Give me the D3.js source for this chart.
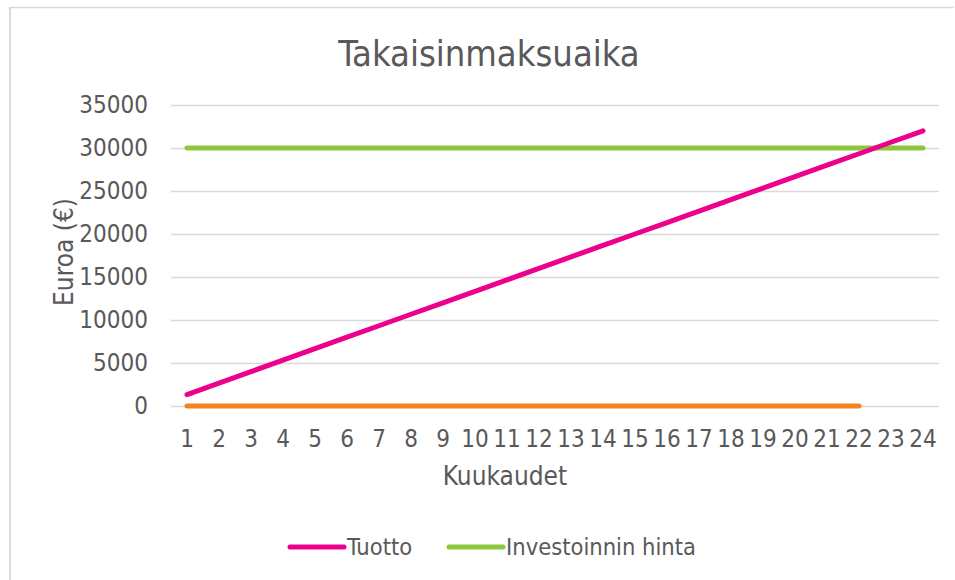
<!DOCTYPE html>
<html>
<head>
<meta charset="utf-8">
<script src="https://cdn.jsdelivr.net/npm/d3@7"></script>
<style>
    body { margin: 0; background: #fff; }
    svg text { font-family: "DejaVu Sans Condensed", "DejaVu Sans", sans-serif; font-stretch: condensed; fill: #595959; }
</style>
</head>
<body>
<svg id="chart" width="955" height="580"></svg>
<script>
// Months on the x axis
var months = ["1","2","3","4","5","6","7","8","9","10","11","12",
              "13","14","15","16","17","18","19","20","21","22","23","24"];

// Cumulative return per month
var tuotto = [1333, 2667, 4000, 5333, 6667, 8000, 9333, 10667, 12000, 13333, 14667, 16000,
              17333, 18667, 20000, 21333, 22667, 24000, 25333, 26667, 28000, 29333, 30667, 32000];

// Investment price (flat)
var investointi = [30000, 30000, 30000, 30000, 30000, 30000, 30000, 30000, 30000, 30000, 30000, 30000,
                   30000, 30000, 30000, 30000, 30000, 30000, 30000, 30000, 30000, 30000, 30000, 30000];

// Third series without legend entry, months 1-22
var kolmas = [0, 0, 0, 0, 0, 0, 0, 0, 0, 0, 0, 0, 0, 0, 0, 0, 0, 0, 0, 0, 0, 0];

var yTicks = [0, 5000, 10000, 15000, 20000, 25000, 30000, 35000];

var svg = d3.select("#chart");

// Chart frame (only top and left edges are visible in the picture)
svg.append("line").attr("x1", 10).attr("x2", 954).attr("y1", 7.5).attr("y2", 7.5)
    .style("stroke", "#d9d9d9").style("stroke-width", 1.5);
svg.append("line").attr("x1", 10).attr("x2", 10).attr("y1", 7).attr("y2", 580)
    .style("stroke", "#d9d9d9").style("stroke-width", 2);

var plot = { left: 171, right: 939, top: 105, bottom: 406 };

var x = d3.scaleBand().domain(months).range([plot.left, plot.right]);
var y = d3.scaleLinear().domain([0, 35000]).range([plot.bottom, plot.top]);

// Gridlines
svg.append("g")
    .selectAll("line")
    .data(yTicks)
    .enter()
  .append("line")
    .attr("x1", plot.left)
    .attr("x2", plot.right)
    .attr("y1", function(d) { return y(d) + 0.5 })
    .attr("y2", function(d) { return y(d) + 0.5 })
    .style("stroke", "#d9d9d9")
    .style("stroke-width", 1.5);

// Y axis labels
var yAxis = svg.append("g")
    .attr("transform", "translate(" + (plot.left - 23) + ",0)")
    .call(d3.axisLeft(y).tickValues(yTicks).tickSize(0).tickPadding(0).tickFormat(d3.format("d")));
yAxis.select(".domain").remove();
yAxis.selectAll("text").style("font-size", "24px").style("fill", "#595959");

// X axis labels
var xAxis = svg.append("g")
    .attr("transform", "translate(0," + (plot.bottom + 24) + ")")
    .call(d3.axisBottom(x).tickSize(0).tickPadding(0));
xAxis.select(".domain").remove();
xAxis.selectAll("text").style("font-size", "24px").style("fill", "#595959");

// Title and axis titles
svg.append("text")
    .attr("x", 489)
    .attr("y", 66)
    .attr("text-anchor", "middle")
    .style("font-size", "36px")
    .text("Takaisinmaksuaika");

svg.append("text")
    .attr("x", 505)
    .attr("y", 485)
    .attr("text-anchor", "middle")
    .style("font-size", "26px")
    .text("Kuukaudet");

svg.append("text")
    .attr("transform", "translate(73,252) rotate(-90)")
    .attr("text-anchor", "middle")
    .style("font-size", "26px")
    .text("Euroa (€)");

// Lines
var line = d3.line()
    .x(function(d, i) { return x(months[i]) + x.bandwidth() / 2 })
    .y(function(d) { return y(d) });

var series = [
    { values: kolmas, color: "#f58220" },
    { values: investointi, color: "#8dc63f" },
    { values: tuotto, color: "#ec008c" }
];

svg.append("g")
    .selectAll("path")
    .data(series)
    .enter()
  .append("path")
    .attr("d", function(d) { return line(d.values) })
    .style("fill", "none")
    .style("stroke", function(d) { return d.color })
    .style("stroke-width", 5)
    .style("stroke-linecap", "round")
    .style("stroke-linejoin", "round");

// Legend
var legendItems = [
    { name: "Tuotto", color: "#ec008c", x: 290 },
    { name: "Investoinnin hinta", color: "#8dc63f", x: 449 }
];

var legend = svg.append("g")
    .selectAll("g")
    .data(legendItems)
    .enter()
  .append("g")
    .attr("transform", function(d) { return "translate(" + d.x + ",547)" });

legend.append("line")
    .attr("x1", 0)
    .attr("x2", 54)
    .style("stroke", function(d) { return d.color })
    .style("stroke-width", 5)
    .style("stroke-linecap", "round");

legend.append("text")
    .attr("x", 57)
    .attr("y", 8)
    .style("font-size", "23.5px")
    .text(function(d) { return d.name });
</script>
</body>
</html>
